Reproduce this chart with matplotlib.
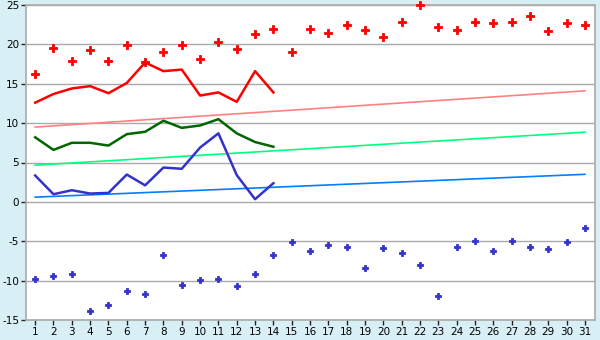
import matplotlib.pyplot as plt

plt.rcParams['axes.unicode_minus'] = False

# Дні місяця
days = list(range(1, 32))
days_cur = list(range(1, 15))

# Рекордні максимуми та мінімуми (точки)
rec_max = [16.3, 19.6, 17.9, 19.3, 17.9, 19.9, 17.7, 19.0, 19.9, 18.2, 20.3, 19.4, 21.3, 21.9, 19.0,
           22.0, 21.5, 22.5, 21.8, 20.9, 22.8, 25.0, 22.2, 21.8, 22.8, 22.7, 22.9, 23.6, 21.7, 22.7, 22.4]
rec_min = [-9.8, -9.4, -9.2, -13.9, -13.1, -11.3, -11.7, -6.8, -10.6, -9.9, -9.8, -10.7, -9.1, -6.8, -5.1,
           -6.3, -5.5, -5.75, -8.4, -5.9, -6.5, -8.0, -11.9, -5.75, -5.0, -6.3, -5.0, -5.75, -6.0, -5.1, -3.3]

# Поточний місяць
t_max = [12.6, 13.7, 14.4, 14.7, 13.8, 15.1, 17.7, 16.6, 16.8, 13.5, 13.9, 12.7, 16.6, 13.9]
t_avg = [8.2, 6.6, 7.5, 7.5, 7.15, 8.6, 8.9, 10.3, 9.4, 9.7, 10.5, 8.7, 7.6, 7.0]
t_min = [3.35, 0.97, 1.48, 1.06, 1.14, 3.47, 2.1, 4.36, 4.2, 6.9, 8.7, 3.4, 0.34, 2.37]

# Норми (початок і кінець місяця)
norm_days = [1, 31]
norm_max = [9.5, 14.1]
norm_avg = [4.66, 8.85]
norm_min = [0.6, 3.5]

bg = '#d9eff6'
fig = plt.figure(figsize=(6, 3.4), dpi=100, facecolor=bg)
ax = fig.add_axes([26 / 600, 1 - 320 / 340, 569 / 600, 315 / 340])
ax.set_facecolor('white')

for y in range(-15, 26, 5):
    ax.axhline(y, color='#aaaaaa', lw=1, zorder=0)

ax.plot(norm_days, norm_max, color='#ff8080', lw=1.2)
ax.plot(norm_days, norm_avg, color='#00ff80', lw=1.2)
ax.plot(norm_days, norm_min, color='#0080ff', lw=1.2)

ax.plot(days_cur, t_max, color='#ff0000', lw=1.8)
ax.plot(days_cur, t_avg, color='#006600', lw=1.8)
ax.plot(days_cur, t_min, color='#3333cc', lw=1.8)

ax.plot(days, rec_max, ls='none', marker='P', ms=5.5, color='#ff0000', mew=0.6,
        clip_on=False, zorder=5)
ax.plot(days, rec_min, ls='none', marker='P', ms=5, color='#3333cc', mew=0.6,
        clip_on=False, zorder=5)

ax.set_xlim(0.5, 31.55)
ax.set_ylim(-15, 25)
ax.set_xticks(days)
ax.set_yticks(range(-15, 26, 5))
ax.tick_params(axis='both', labelsize=7.5, length=3.5, width=1, color='#222222', pad=1.5)
for s in ax.spines.values():
    s.set_color('#aaaaaa')
    s.set_linewidth(1.2)

plt.savefig('out.png', dpi=100, facecolor=bg)
